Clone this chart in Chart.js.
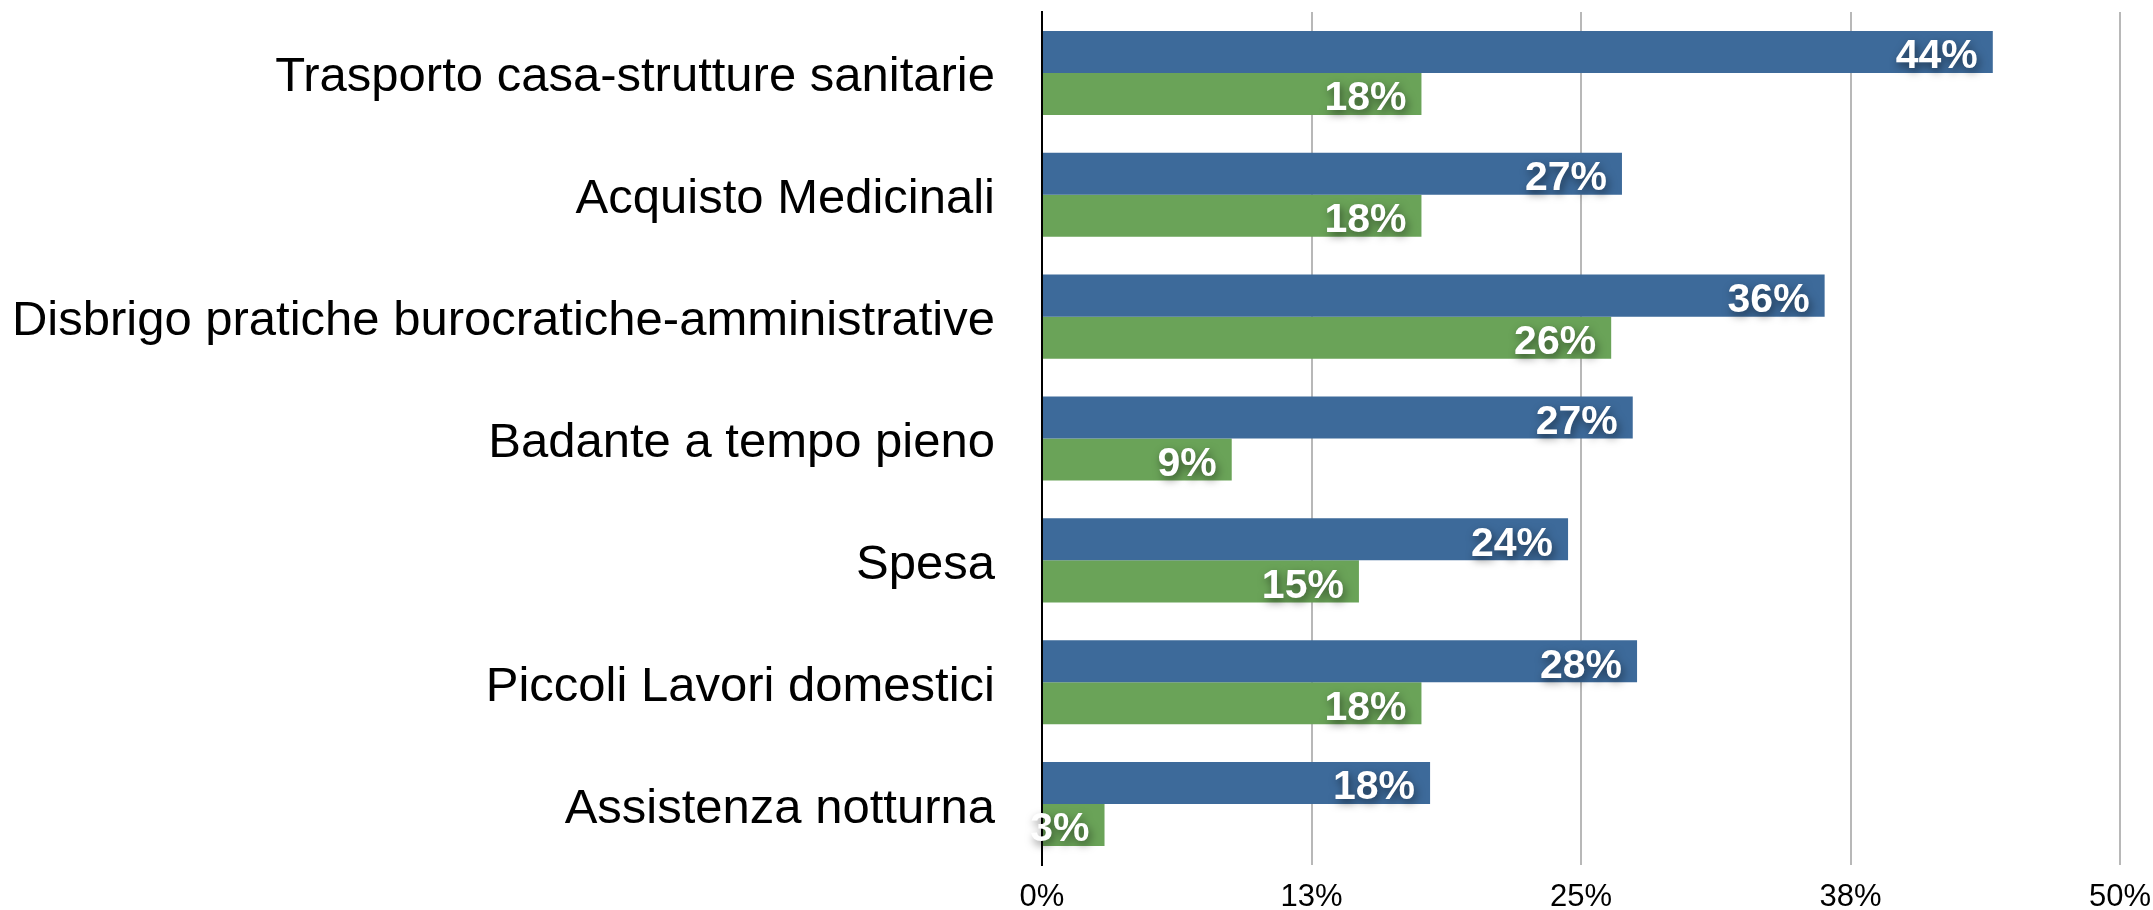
<!DOCTYPE html>
<html>
<head>
<meta charset="utf-8">
<script src="https://cdn.jsdelivr.net/npm/chart.js@4.4.0/dist/chart.umd.min.js"></script>
<style>
  html, body { margin: 0; padding: 0; background: #fff; }
  #wrap { width: 2153px; height: 910px; position: relative; }
</style>
</head>
<body>
<div id="wrap"><canvas id="myChart"></canvas></div>
<script>
// categories and series (percent)
const categories = [
  'Trasporto casa-strutture sanitarie',
  'Acquisto Medicinali',
  'Disbrigo pratiche burocratiche-amministrative',
  'Badante a tempo pieno',
  'Spesa',
  'Piccoli Lavori domestici',
  'Assistenza notturna'
];
const seriesBlue = [44.1, 26.9, 36.3, 27.4, 24.4, 27.6, 18.0];
const seriesGreen = [17.6, 17.6, 26.4, 8.8, 14.7, 17.6, 2.9];
const axisMax = 50;
const axisStep = 12.5;

const FONT = "'Liberation Sans', Arial, Helvetica, sans-serif";

// white value labels drawn at the end of each bar
const barLabels = {
  id: 'barLabels',
  afterDatasetsDraw(chart) {
    const ctx = chart.ctx;
    ctx.save();
    ctx.font = 'bold 41px ' + FONT;
    ctx.fillStyle = '#fff';
    ctx.textAlign = 'right';
    ctx.textBaseline = 'middle';
    ctx.shadowColor = 'rgba(0,0,0,0.5)';
    ctx.shadowBlur = 8;
    ctx.shadowOffsetX = 2;
    ctx.shadowOffsetY = 4;
    chart.data.datasets.forEach((ds, i) => {
      chart.getDatasetMeta(i).data.forEach((bar, j) => {
        ctx.fillText(Math.round(ds.data[j]) + '%', bar.x - 15, bar.y + 5);
      });
    });
    ctx.restore();
  }
};

const config = {
  type: 'bar',
  data: {
    labels: categories,
    datasets: [
      { label: 'A', data: seriesBlue, backgroundColor: '#3d6a9a', borderWidth: 0 },
      { label: 'B', data: seriesGreen, backgroundColor: '#6aa358', borderWidth: 0 }
    ]
  },
  options: {
    indexAxis: 'y',
    responsive: true,
    maintainAspectRatio: false,
    animation: false,
    layout: { padding: { top: 12, right: 33, left: 0, bottom: 0 } },
    datasets: { bar: { categoryPercentage: 0.69, barPercentage: 1.0 } },
    plugins: { legend: { display: false }, tooltip: { enabled: false } },
    scales: {
      x: {
        min: 0,
        max: axisMax,
        afterFit(scale) {
          scale.height = 45;
          scale.paddingLeft = 0;
          scale.paddingRight = 0;
        },
        grid: {
          color: (c) => c.tick && c.tick.value === 0 ? '#000' : '#b8b8b8',
          lineWidth: 2,
          drawTicks: false
        },
        border: { display: false },
        ticks: {
          stepSize: axisStep,
          maxRotation: 0,
          padding: 14,
          color: '#000',
          font: { family: FONT, size: 31 },
          callback: (v) => Math.round(v) + '%'
        }
      },
      y: {
        afterFit(scale) {
          scale.width = 1042;
          scale.paddingTop = 0;
          scale.paddingBottom = 0;
        },
        grid: { display: false, drawTicks: false },
        border: { display: true, color: '#000', width: 2 },
        ticks: {
          padding: 47,
          labelOffset: 5,
          color: '#000',
          font: { family: FONT, size: 49 }
        }
      }
    }
  },
  plugins: [barLabels]
};

const ctx = document.getElementById('myChart');
const myChart = new Chart(ctx, config);
</script>
</body>
</html>
